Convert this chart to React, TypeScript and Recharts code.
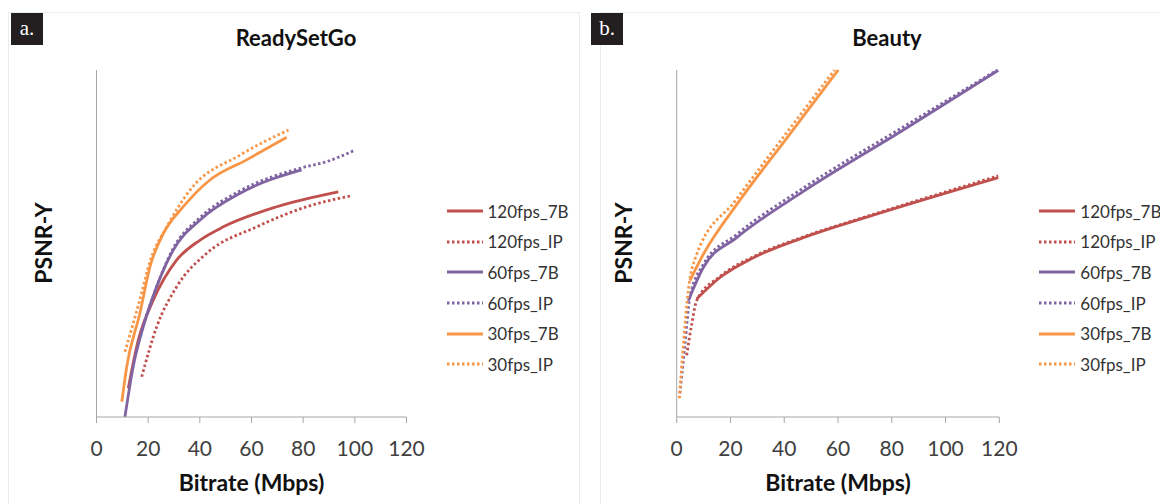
import { LineChart, Line, XAxis, YAxis } from "recharts";

type Pt = { x: number; y: number };
const pts = (a: number[][]): Pt[] => a.map(([x, y]) => ({ x, y }));

const xTicks = [0, 20, 40, 60, 80, 100, 120];
const yTicks = [0, 100];

const seriesNames = ["120fps_7B", "120fps_IP", "60fps_7B", "60fps_IP", "30fps_7B", "30fps_IP"];
const seriesColors = ["#C0504D", "#C0504D", "#8064A2", "#8064A2", "#F79646", "#F79646"];
const seriesDotted = [false, true, false, true, false, true];

// ReadySetGo (panel a) – bitrate vs PSNR-Y (y has no scale in the source, 0..100 relative)
const rsg120_7B = pts([[12.3, 8.3], [16.2, 22.2], [22, 33.7], [31, 45.2], [40.1, 51], [49.1, 54.8], [69.8, 60.6], [93.6, 64.9]]);
const rsg120_IP = pts([[17.5, 11.6], [23.3, 26], [31, 37.5], [42.7, 47.2], [62, 54.8], [81.4, 60.6], [98.8, 63.8]]);
const rsg60_7B = pts([[11, 0], [14.2, 14.5], [18.1, 26], [21.4, 33.7], [29.7, 48.1], [40.1, 56.8], [55.6, 64.5], [79.4, 71.2]]);
const rsg60_IP = pts([[17.5, 25], [21.4, 33.7], [29.7, 48.6], [40.1, 57.5], [55.6, 65.2], [79.4, 71.8], [89.1, 73.6], [99.4, 76.7]]);
const rsg30_7B = pts([[9.8, 4.4], [11.7, 14.5], [16.8, 29.9], [20.7, 43.3], [25.9, 52.9], [33.6, 60.6], [43.9, 68.3], [58.1, 74.1], [73.6, 80.6]]);
const rsg30_IP = pts([[11, 18.8], [16.5, 33], [21, 45.5], [27.2, 54.8], [36.2, 65.4], [55.6, 75.5], [74.3, 82.7]]);

// Beauty (panel b)
const bty120_7B = pts([[7.4, 34], [16.1, 40.2], [28.5, 45.9], [47.1, 51.7], [71.9, 57.9], [119.6, 69]]);
const bty120_IP = pts([[3.7, 17.8], [5.6, 26.8], [7.4, 33.5], [16.1, 40.5], [28.5, 46.2], [47.1, 51.9], [71.9, 58.1], [119.6, 69.5]]);
const bty60_7B = pts([[4.3, 33.5], [9.9, 43.1], [22.3, 51.7], [47.1, 65], [84.3, 82.7], [119.6, 99.9]]);
const bty60_IP = pts([[1.2, 6.8], [3.1, 21.1], [4.9, 34.5], [9.9, 44], [22.3, 52.6], [47.1, 66], [84.3, 83.6], [119.2, 100]]);
const bty30_7B = pts([[4.9, 39.3], [9.9, 46.9], [22.3, 61.2], [40.9, 80.3], [60.1, 100]]);
const bty30_IP = pts([[1, 5.4], [2.5, 21.1], [4.3, 36.4], [7.4, 46.8], [22, 62.5], [40.5, 81.5], [58.7, 100]]);

const rsgSeries = [rsg120_7B, rsg120_IP, rsg60_7B, rsg60_IP, rsg30_7B, rsg30_IP];
const btySeries = [bty120_7B, bty120_IP, bty60_7B, bty60_IP, bty30_7B, bty30_IP];

const FONT = "Lato, 'Open Sans', sans-serif";
const AXIS = "#a6a6a6";

function Panel({ left, width, label, title, titleX, plotLeft, plotRight, data }: {
  left: number; width: number; label: string; title: string; titleX: number;
  plotLeft: number; plotRight: number; data: Pt[][];
}) {
  const midX = (plotLeft + plotRight) / 2;
  return (
    <div style={{ position: "absolute", left, top: 0, width, height: 504 }}>
      <LineChart
        width={width}
        height={504}
        margin={{ top: 70, right: width - plotRight, bottom: 57, left: plotLeft - 60 }}
        style={{ position: "absolute", left: 0, top: 0 }}
      >
        <XAxis
          type="number"
          dataKey="x"
          domain={[0, 120]}
          ticks={xTicks}
          height={30}
          tickSize={6}
          tickMargin={18}
          axisLine={{ stroke: AXIS }}
          tickLine={{ stroke: AXIS }}
          tick={{ fill: "#404040", fontSize: 21, fontFamily: FONT }}
        />
        <YAxis
          type="number"
          dataKey="y"
          domain={[0, 100]}
          ticks={yTicks}
          width={60}
          tickSize={5}
          axisLine={{ stroke: AXIS }}
          tickLine={{ stroke: AXIS }}
          tick={false}
        />
        {data.map((d, i) => (
          <Line
            key={seriesNames[i]}
            data={d}
            dataKey="y"
            type="monotone"
            stroke={seriesColors[i]}
            strokeWidth={2.8}
            strokeDasharray={seriesDotted[i] ? "2.5 2.5" : undefined}
            dot={false}
            activeDot={false}
            isAnimationActive={false}
          />
        ))}
      </LineChart>
      <div style={{ position: "absolute", left: 11, top: 13, width: 32, height: 32, background: "#231f20",
        color: "#fff", fontFamily: "'Liberation Serif', serif", fontSize: 21, lineHeight: "30px", textAlign: "center" }}>
        {label}
      </div>
      <div style={{ position: "absolute", left: titleX - 100, width: 200, top: 24, textAlign: "center",
        fontFamily: FONT, fontWeight: 700, fontSize: 22, color: "#111" }}>
        {title}
      </div>
      <div style={{ position: "absolute", left: midX - 100, width: 200, top: 468, textAlign: "center",
        fontFamily: FONT, fontWeight: 700, fontSize: 23, color: "#111" }}>
        Bitrate (Mbps)
      </div>
      <div style={{ position: "absolute", left: plotLeft - 54 - 50, width: 100, top: 229, textAlign: "center",
        transform: "rotate(-90deg)", fontFamily: FONT, fontWeight: 700, fontSize: 23, color: "#111" }}>
        PSNR-Y
      </div>
      <div style={{ position: "absolute", left: plotRight + 40, top: 196 }}>
        {seriesNames.map((n, i) => (
          <div key={n} style={{ display: "flex", alignItems: "center", height: 30.6 }}>
            <svg width={36} height={6} style={{ marginRight: 5 }}>
              <line x1={0} y1={3} x2={36} y2={3} stroke={seriesColors[i]} strokeWidth={2.8}
                strokeDasharray={seriesDotted[i] ? "2.5 2.5" : undefined} />
            </svg>
            <span style={{ fontFamily: FONT, fontSize: 17, color: "#333" }}>{n}</span>
          </div>
        ))}
      </div>
    </div>
  );
}

export default function App() {
  return (
    <div style={{ position: "absolute", left: 0, top: 0, width: 1160, height: 504, background: "#fff", overflow: "hidden" }}>
      <div style={{ position: "absolute", left: 8, top: 12, width: 570, height: 500, border: "1px solid #ececec" }} />
      <div style={{ position: "absolute", left: 600, top: 12, width: 570, height: 500, border: "1px solid #ececec" }} />
      <Panel left={0} width={580} label="a." title="ReadySetGo" titleX={296}
        plotLeft={96.5} plotRight={406.5} data={rsgSeries} />
      <Panel left={580} width={580} label="b." title="Beauty" titleX={307}
        plotLeft={96.7} plotRight={419.3} data={btySeries} />
    </div>
  );
}
